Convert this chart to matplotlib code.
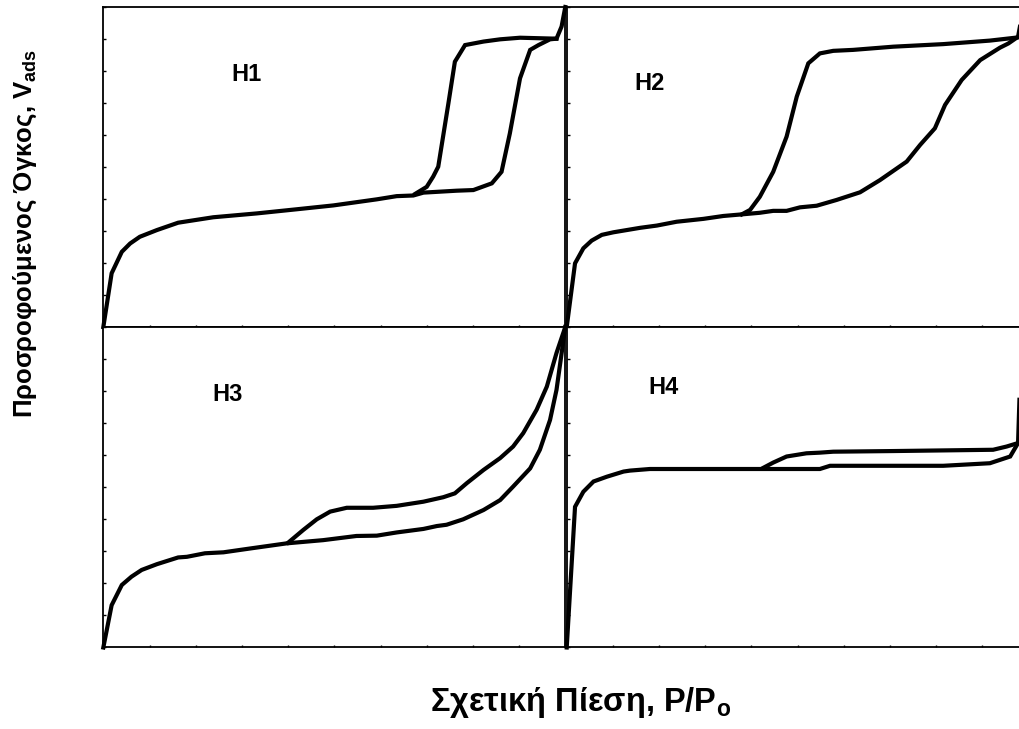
import numpy as np
import matplotlib.pyplot as plt

plt.rcParams['font.family'] = ['Liberation Sans', 'DejaVu Sans']
plt.rcParams['mathtext.fontset'] = 'custom'
plt.rcParams['mathtext.rm'] = 'Liberation Sans:bold'
plt.rcParams['mathtext.bf'] = 'Liberation Sans:bold'

# H1 - απότομος βρόχος, παράλληλοι κλάδοι
h1_ads_x = [0, .018, .040, .058, .079, .116, .162, .238, .332, .419, .498, .592, .635, .671,
            .693, .765, .801, .841, .862, .880, .902, .924, .942, .967, .981, .992, 1.0]
h1_ads_y = [0, 1.68, 2.35, 2.61, 2.82, 3.03, 3.26, 3.43, 3.55, 3.68, 3.80, 3.99, 4.09, 4.11,
            4.20, 4.26, 4.28, 4.49, 4.85, 6.05, 7.77, 8.66, 8.81, 8.99, 9.01, 9.39, 10.0]
h1_des_x = [.981, .902, .859, .823, .783, .761, .747, .725, .714, .700, .675]
h1_des_y = [9.01, 9.04, 8.99, 8.92, 8.81, 8.29, 6.99, 5.01, 4.70, 4.38, 4.16]

# H2 - τριγωνικός βρόχος
h2_ads_x = [0, .018, .036, .054, .076, .101, .159, .195, .238, .296, .339, .379, .418, .447,
            .476, .505, .541, .584, .635, .678, .736, .765, .797, .819, .855, .895, .938, .956,
            .977, .981]
h2_ads_y = [0, 1.99, 2.46, 2.70, 2.88, 2.96, 3.10, 3.17, 3.29, 3.38, 3.47, 3.52, 3.57, 3.63,
            3.63, 3.74, 3.79, 3.97, 4.21, 4.59, 5.17, 5.69, 6.21, 6.94, 7.72, 8.34, 8.73, 8.86,
            9.07, 9.38]
h2_des_x = [.977, .916, .815, .707, .620, .577, .548, .523, .498, .476, .447, .418, .397, .379]
h2_des_y = [9.05, 8.95, 8.84, 8.76, 8.66, 8.63, 8.55, 8.24, 7.20, 5.95, 4.85, 4.07, 3.66, 3.52]

# H3 - χωρίς οριακή προσρόφηση
h3_ads_x = [0, .018, .040, .061, .083, .116, .162, .181, .220, .260, .318, .397, .476, .548,
            .592, .635, .693, .722, .743, .779, .823, .859, .887, .924, .945, .967, .981, 1.0]
h3_ads_y = [0, 1.32, 1.95, 2.21, 2.42, 2.60, 2.81, 2.83, 2.94, 2.97, 3.09, 3.25, 3.35, 3.48,
            3.49, 3.59, 3.70, 3.79, 3.83, 4.00, 4.29, 4.60, 5.02, 5.59, 6.17, 7.10, 8.04, 10.0]
h3_des_x = [1.0, .981, .960, .938, .909, .887, .859, .823, .787, .761, .736, .693, .635, .584,
            .527, .491, .462, .433, .400]
h3_des_y = [10.0, 9.19, 8.14, 7.42, 6.69, 6.27, 5.91, 5.54, 5.13, 4.81, 4.69, 4.55, 4.42, 4.36,
            4.36, 4.24, 4.00, 3.67, 3.27]

# H4 - στενοί πόροι σχισμής
h4_ads_x = [0, .018, .036, .058, .087, .123, .137, .180, .418, .548, .570, .815, .916, .960,
            .977, .980]
h4_ads_y = [0, 4.39, 4.86, 5.18, 5.33, 5.49, 5.52, 5.57, 5.57, 5.57, 5.67, 5.67, 5.75, 5.96,
            6.38, 7.73]
h4_des_x = [.977, .952, .923, .707, .577, .548, .519, .476, .447, .426]
h4_des_y = [6.38, 6.27, 6.17, 6.13, 6.11, 6.08, 6.06, 5.96, 5.77, 5.61]

panels = [
    ('H1', [0.1013, 0.5514, 0.4529, 0.4390], h1_ads_x, h1_ads_y, h1_des_x, h1_des_y, (0.31, 7.9)),
    ('H2', [0.5556, 0.5514, 0.4529, 0.4390], h2_ads_x, h2_ads_y, h2_des_x, h2_des_y, (0.18, 7.6)),
    ('H3', [0.1013, 0.1118, 0.4529, 0.4396], h3_ads_x, h3_ads_y, h3_des_x, h3_des_y, (0.27, 7.9)),
    ('H4', [0.5556, 0.1118, 0.4529, 0.4396], h4_ads_x, h4_ads_y, h4_des_x, h4_des_y, (0.21, 8.1)),
]

fig = plt.figure(figsize=(10.2, 7.29), dpi=100)

for name, pos, ax_x, ax_y, de_x, de_y, lab in panels:
    ax = fig.add_axes(pos)
    ax.plot(ax_x, ax_y, color='black', lw=3, clip_on=False, solid_joinstyle='miter')
    ax.plot(de_x, de_y, color='black', lw=3, clip_on=False, solid_joinstyle='miter')
    ax.text(lab[0], lab[1], name, fontsize=17, fontweight='bold', ha='center', va='center')
    ax.set_xlim(0, 1)
    ax.set_ylim(0, 10)
    ax.set_xticks(np.linspace(0, 1, 11))
    ax.set_yticks(np.arange(0, 11))
    ax.tick_params(direction='in', length=1.8, width=1, labelbottom=False, labelleft=False)
    for s in ax.spines.values():
        s.set_linewidth(1.3)

fig.text(0.0245, 0.68, r'Προσροφούμενος Όγκος, V$_{\mathbf{ads}}$', rotation=90,
         fontsize=18.5, fontweight='bold', ha='center', va='center')
fig.text(0.569, 0.036, r'Σχετική Πίεση, P/P$_{\mathbf{o}}$',
         fontsize=23.5, fontweight='bold', ha='center', va='center')

plt.savefig('out.png', dpi=100)
